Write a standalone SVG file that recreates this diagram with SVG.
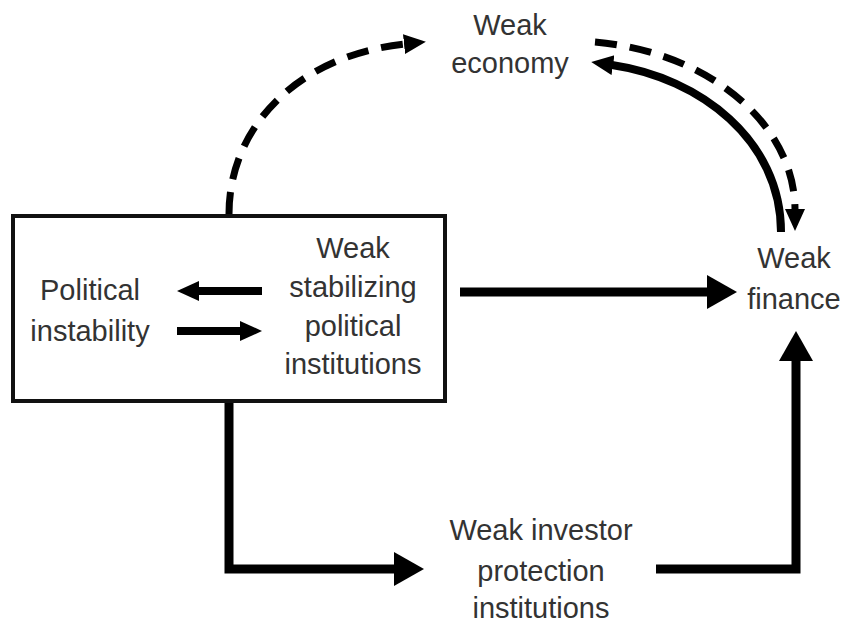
<svg xmlns="http://www.w3.org/2000/svg" width="846" height="623" viewBox="0 0 846 623">
  <defs>
    <style>
      .lbl { font-family: "Liberation Sans", Arial, sans-serif; font-size: 29px; fill: #333; text-anchor: middle; }
      .box { fill: #fff; stroke: #111; stroke-width: 4; }
      .solid { fill: none; stroke: #000; stroke-width: 9; stroke-linejoin: miter; }
      .thin { fill: none; stroke: #000; stroke-width: 8; }
      .dash { fill: none; stroke: #000; stroke-width: 7; stroke-dasharray: 22 13; }
    </style>
    <marker id="bigHead" markerUnits="userSpaceOnUse" markerWidth="32" markerHeight="36" refX="1" refY="17" orient="auto">
      <path d="M0,0 L30,17 L0,34 z" fill="#000"/>
    </marker>
    <marker id="smallHead" markerUnits="userSpaceOnUse" markerWidth="24" markerHeight="22" refX="1" refY="10" orient="auto">
      <path d="M0,0 L22,10 L0,20 z" fill="#000"/>
    </marker>
  </defs>
  <rect width="846" height="623" fill="#fff"/>

  <!-- connectors -->
  <g id="connectors">
    <path class="dash" d="M229,214 C229,125 300,55 405,44" marker-end="url(#smallHead)"/>
    <path class="dash" d="M595,42 C710,52 795,125 795,210" marker-end="url(#smallHead)"/>
    <path class="thin" d="M781,232 C781,140 700,78 612,65" stroke-width="7" marker-end="url(#smallHead)"/>
    <line class="solid" x1="460" y1="292" x2="708" y2="292" marker-end="url(#bigHead)"/>
    <polyline class="solid" points="229,401 229,569 395,569" marker-end="url(#bigHead)"/>
    <polyline class="solid" points="656,569 796,569 796,360" marker-end="url(#bigHead)"/>
  </g>

  <!-- political system box -->
  <g id="political-system">
    <rect class="box" x="13" y="216" width="432" height="185"/>
    <g id="political-instability">
      <text class="lbl" x="90" y="300">Political</text>
      <text class="lbl" x="90" y="341">instability</text>
    </g>
    <g id="weak-stabilizing-institutions">
      <text class="lbl" x="353" y="258">Weak</text>
      <text class="lbl" x="353" y="297">stabilizing</text>
      <text class="lbl" x="353" y="336">political</text>
      <text class="lbl" x="353" y="374">institutions</text>
    </g>
    <line class="thin" x1="262" y1="291" x2="198" y2="291" marker-end="url(#smallHead)"/>
    <line class="thin" x1="177" y1="331" x2="241" y2="331" marker-end="url(#smallHead)"/>
  </g>

  <g id="weak-economy">
    <text class="lbl" x="510" y="35">Weak</text>
    <text class="lbl" x="510" y="73">economy</text>
  </g>

  <g id="weak-finance">
    <text class="lbl" x="794" y="268">Weak</text>
    <text class="lbl" x="794" y="309">finance</text>
  </g>

  <g id="weak-investor-protection">
    <text class="lbl" x="541" y="540">Weak investor</text>
    <text class="lbl" x="541" y="581">protection</text>
    <text class="lbl" x="541" y="618">institutions</text>
  </g>
</svg>
